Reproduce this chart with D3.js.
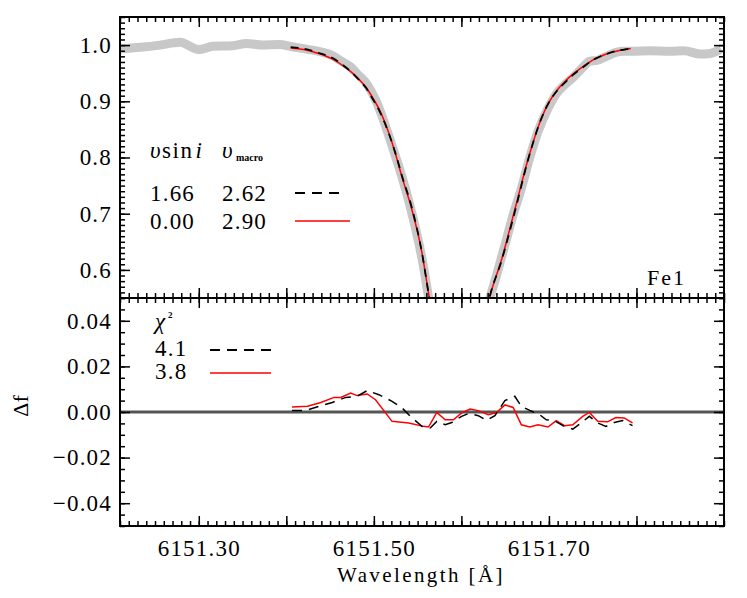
<!DOCTYPE html>
<html>
<head>
<meta charset="utf-8">
<script src="https://cdn.jsdelivr.net/npm/d3@7"></script>
<style>
  html, body { margin: 0; padding: 0; background: #fff; }
  svg text { font-family: "Liberation Serif", "DejaVu Serif", serif; fill: #000; }
</style>
</head>
<body>
<svg id="chart" width="747" height="598"></svg>
<script>
// ---------------- data ----------------
// observed spectrum (grey)
const obsWave = [6151.2102, 6151.233, 6151.2557, 6151.2784, 6151.300, 6151.316, 6151.3386, 6151.3545, 6151.3727, 6151.392,
  6151.4065, 6151.4242, 6151.4394, 6151.4545, 6151.4622, 6151.4735, 6151.481, 6151.4924, 6151.5019, 6151.5208,
  6151.5398, 6151.5568, 6151.5625, 6151.5719, 6151.5815, 6151.5909, 6151.6003, 6151.6099, 6151.6193, 6151.6307,
  6151.6401, 6151.6497, 6151.6591, 6151.6685, 6151.6781, 6151.6875, 6151.6989, 6151.7083, 6151.7178, 6151.7273,
  6151.7386, 6151.7462, 6151.7557, 6151.767, 6151.7765, 6151.786, 6151.7955, 6151.816, 6151.8386, 6151.8545,
  6151.8727, 6151.884, 6151.8966];
const obsFlux = [0.993, 0.996, 1.000, 1.005, 0.992, 0.998, 0.999, 1.003, 1.000, 1.001,
  0.997, 0.9925, 0.988, 0.980, 0.972, 0.961, 0.949, 0.930, 0.903, 0.821,
  0.723, 0.605, 0.551, 0.475, 0.425, 0.397, 0.390, 0.410, 0.455, 0.539,
  0.590, 0.644, 0.698, 0.745, 0.800, 0.846, 0.887, 0.913, 0.929, 0.942,
  0.960, 0.971, 0.973, 0.981, 0.987, 0.989, 0.989, 0.990, 0.989, 0.990,
  0.984, 0.985, 0.993];

// model wavelengths
const modelWave = [6151.405, 6151.420, 6151.435, 6151.453, 6151.465, 6151.475, 6151.483, 6151.491, 6151.498, 6151.506,
  6151.517, 6151.525, 6151.532, 6151.5435, 6151.555, 6151.5625, 6151.570, 6151.580, 6151.597, 6151.615,
  6151.625, 6151.6326, 6151.646, 6151.661, 6151.676, 6151.691, 6151.700, 6151.710, 6151.720, 6151.729,
  6151.740, 6151.752, 6151.762, 6151.771, 6151.782, 6151.7935];
// model 1: vsini 1.66, vmacro 2.62 (black dashed)
const modelFluxA = [0.9965, 0.9935, 0.987, 0.977, 0.964, 0.951, 0.938, 0.924, 0.906, 0.884,
  0.843, 0.806, 0.768, 0.710, 0.630, 0.558, 0.488, 0.428, 0.392, 0.432,
  0.502, 0.554, 0.617, 0.703, 0.795, 0.868, 0.898, 0.920, 0.936, 0.949,
  0.962, 0.975, 0.982, 0.987, 0.991, 0.994];
// model 2: vsini 0.00, vmacro 2.90 (red)
const modelFluxB = [0.995, 0.992, 0.986, 0.975, 0.963, 0.951, 0.939, 0.925, 0.908, 0.886,
  0.844, 0.805, 0.766, 0.707, 0.630, 0.558, 0.490, 0.430, 0.390, 0.430,
  0.500, 0.553, 0.619, 0.707, 0.796, 0.868, 0.898, 0.921, 0.938, 0.950,
  0.963, 0.975, 0.982, 0.987, 0.991, 0.994];

// residuals
const resWaveA = [6151.4065, 6151.4224, 6151.4375, 6151.4526, 6151.4678, 6151.481, 6151.4924, 6151.5057, 6151.5208, 6151.5322,
  6151.5417, 6151.5549, 6151.5644, 6151.5719, 6151.5815, 6151.589, 6151.6003, 6151.608, 6151.6193, 6151.6288,
  6151.6383, 6151.6497, 6151.661, 6151.6685, 6151.6781, 6151.6894, 6151.697, 6151.7065, 6151.7159, 6151.7273,
  6151.7367, 6151.7462, 6151.7557, 6151.7651, 6151.7747, 6151.7841, 6151.7955];
const resA = [0.0007, 0.0007, 0.0025, 0.0042, 0.0064, 0.0069, 0.0094, 0.0076, 0.0047, 0.0018,
  -0.0019, -0.0063, -0.0070, -0.0041, -0.0056, -0.0046, -0.0019, -0.0007, -0.0016, -0.0037,
  -0.0016, 0.0050, 0.0069, 0.0025, 0.0007, -0.0012, -0.0034, -0.0038, -0.0060, -0.0075,
  -0.0048, -0.0019, -0.0048, -0.0063, -0.0046, -0.0037, -0.0060];
const resWaveB = [6151.4065, 6151.4242, 6151.4394, 6151.4545, 6151.4622, 6151.4735, 6151.481, 6151.4924, 6151.5019, 6151.5208,
  6151.5398, 6151.5568, 6151.5625, 6151.5719, 6151.5815, 6151.5909, 6151.6003, 6151.6099, 6151.6193, 6151.6307,
  6151.6401, 6151.6497, 6151.6591, 6151.6685, 6151.6781, 6151.6875, 6151.6989, 6151.7083, 6151.7178, 6151.7273,
  6151.7386, 6151.7462, 6151.7557, 6151.767, 6151.7765, 6151.786, 6151.7955];
const resB = [0.0022, 0.0025, 0.0042, 0.0064, 0.0064, 0.0083, 0.0072, 0.0079, 0.0054, -0.0041,
  -0.0048, -0.0063, -0.0066, -0.0002, -0.0034, -0.0034, -0.0004, 0.0013, 0.0006, -0.0012,
  -0.0002, 0.0031, 0.0020, -0.0056, -0.0066, -0.0056, -0.0066, -0.0038, -0.0060, -0.0056,
  -0.0019, -0.0002, -0.0041, -0.0043, -0.0024, -0.0026, -0.0048];

// axis ticks / labels
const xMajorTicks = [6151.3, 6151.4, 6151.5, 6151.6, 6151.7, 6151.8];
const xTickLabels = ["6151.30", "", "6151.50", "", "6151.70", ""];
const yTopTicks = [0.6, 0.7, 0.8, 0.9, 1.0];
const yTopLabels = ["0.6", "0.7", "0.8", "0.9", "1.0"];
const yBotTicks = [-0.04, -0.02, 0.0, 0.02, 0.04];
const yBotLabels = ["\u22120.04", "\u22120.02", "0.00", "0.02", "0.04"];

// legend
const legVsini = ["1.66", "0.00"];
const legVmacro = ["2.62", "2.90"];
const legChi2 = ["4.1", "3.8"];
const lineName = "Fe1";

// ---------------- layout ----------------
const L = 120, R = 724, T = 17, M = 298, B = 526;
const FONT = "Liberation Serif";
const svg = d3.select("#chart");

const x = d3.scaleLinear().domain([6151.21, 6151.90]).range([L, R]);
const yTop = d3.scaleLinear().domain([0.55, 1.05]).range([M, T]);
const yBot = d3.scaleLinear().domain([-0.05, 0.05]).range([B, M]);

const defs = svg.append("defs");
defs.append("clipPath").attr("id", "clipTop").append("rect")
  .attr("x", L).attr("y", T).attr("width", R - L).attr("height", M - T);
defs.append("clipPath").attr("id", "clipBot").append("rect")
  .attr("x", L).attr("y", M).attr("width", R - L).attr("height", B - M);

// ---------------- top panel ----------------
const gTop = svg.append("g").attr("clip-path", "url(#clipTop)");
const lineTop = d3.line().x(d => x(d[0])).y(d => yTop(d[1])).curve(d3.curveMonotoneX);

gTop.append("path")
  .datum(obsWave.map((w, i) => [w, obsFlux[i]]))
  .attr("d", lineTop).attr("fill", "none")
  .attr("stroke", "#c8c8c8").attr("stroke-width", 9).attr("stroke-linejoin", "round");
gTop.append("path")
  .datum(modelWave.map((w, i) => [w, modelFluxB[i]]))
  .attr("d", lineTop).attr("fill", "none")
  .attr("stroke", "#ff0000").attr("stroke-width", 1.5);
gTop.append("path")
  .datum(modelWave.map((w, i) => [w, modelFluxA[i]]))
  .attr("d", lineTop).attr("fill", "none")
  .attr("stroke", "#000").attr("stroke-width", 1.8).attr("stroke-dasharray", "8,6");

// ---------------- bottom panel ----------------
const gBot = svg.append("g").attr("clip-path", "url(#clipBot)");
const lineBot = d3.line().x(d => x(d[0])).y(d => yBot(d[1]));

gBot.append("line")
  .attr("x1", L).attr("x2", R).attr("y1", yBot(0)).attr("y2", yBot(0))
  .attr("stroke", "#555").attr("stroke-width", 3);
gBot.append("path")
  .datum(resWaveB.map((w, i) => [w, resB[i]]))
  .attr("d", lineBot).attr("fill", "none")
  .attr("stroke", "#ff0000").attr("stroke-width", 1.5);
gBot.append("path")
  .datum(resWaveA.map((w, i) => [w, resA[i]]))
  .attr("d", lineBot).attr("fill", "none")
  .attr("stroke", "#000").attr("stroke-width", 1.5).attr("stroke-dasharray", "10,7");

// ---------------- axes ----------------
const xMinor = x.ticks(70);
function styleAxis(g) {
  g.select(".domain").remove();
  g.selectAll(".tick line").attr("stroke", "#000").attr("stroke-width", 1.5);
  g.selectAll("text").attr("font-family", FONT).attr("font-size", 23)
    .attr("letter-spacing", 1.2).attr("fill", "#000");
}
function xAxes(axisFn, yPos, withLabels) {
  svg.append("g").attr("transform", `translate(0,${yPos})`)
    .call(axisFn(x).tickValues(xMinor).tickSize(-5).tickFormat(""))
    .call(styleAxis);
  svg.append("g").attr("transform", `translate(0,${yPos})`)
    .call(axisFn(x).tickValues(xMajorTicks).tickSize(-10).tickPadding(14)
      .tickFormat((d, i) => withLabels ? xTickLabels[i] : ""))
    .call(styleAxis);
}
xAxes(d3.axisTop, T, false);
xAxes(d3.axisBottom, M, false);
xAxes(d3.axisTop, M, false);
xAxes(d3.axisBottom, B, true);

function yAxes(scale, majors, labels, minorCount) {
  const minors = scale.ticks(minorCount);
  [[d3.axisLeft, L, true], [d3.axisRight, R, false]].forEach(([fn, xp, lab]) => {
    svg.append("g").attr("transform", `translate(${xp},0)`)
      .call(fn(scale).tickValues(minors).tickSize(-5).tickFormat(""))
      .call(styleAxis);
    svg.append("g").attr("transform", `translate(${xp},0)`)
      .call(fn(scale).tickValues(majors).tickSize(-10).tickPadding(8)
        .tickFormat((d, i) => lab ? labels[i] : ""))
      .call(styleAxis);
  });
}
yAxes(yTop, yTopTicks, yTopLabels, 50);
yAxes(yBot, yBotTicks, yBotLabels, 20);

// frames
svg.append("rect").attr("x", L).attr("y", T).attr("width", R - L).attr("height", B - T)
  .attr("fill", "none").attr("stroke", "#000").attr("stroke-width", 2);
svg.append("line").attr("x1", L).attr("x2", R).attr("y1", M).attr("y2", M)
  .attr("stroke", "#000").attr("stroke-width", 2);

// axis titles
svg.append("text").attr("x", (L + R) / 2 - 1).attr("y", 582)
  .attr("text-anchor", "middle").attr("font-size", 21).attr("letter-spacing", 2.4)
  .text("Wavelength [\u00c5]");
svg.append("text").attr("transform", "translate(28,406) rotate(-90)")
  .attr("text-anchor", "middle").attr("font-size", 22)
  .text("\u0394f");

// line name
svg.append("text").attr("x", 647).attr("y", 285).attr("font-size", 22).attr("letter-spacing", 2).text(lineName);

// ---------------- top legend ----------------
const hdr = svg.append("text").attr("x", 150).attr("y", 158).attr("font-size", 23).attr("letter-spacing", 1.5);
hdr.append("tspan").attr("font-style", "italic").text("\u03c5");
hdr.append("tspan").text("sin");
hdr.append("tspan").attr("font-style", "italic").attr("dx", 2).text("i");
svg.append("text").attr("x", 222).attr("y", 158).attr("font-size", 23).attr("font-style", "italic").text("\u03c5");
svg.append("text").attr("x", 236).attr("y", 161).attr("font-size", 10).attr("font-weight", "bold").text("macro");

const legRowsY = [201, 229];
const legStroke = [{ c: "#000", dash: "10,7", w: 1.8 }, { c: "#ff0000", dash: null, w: 1.5 }];
legVsini.forEach((v, i) => {
  svg.append("text").attr("x", 150).attr("y", legRowsY[i]).attr("font-size", 23).attr("letter-spacing", 1.2).text(v);
  svg.append("text").attr("x", 222).attr("y", legRowsY[i]).attr("font-size", 23).attr("letter-spacing", 1.2).text(legVmacro[i]);
  svg.append("line").attr("x1", 295).attr("x2", i === 0 ? 345 : 350)
    .attr("y1", legRowsY[i] - 8).attr("y2", legRowsY[i] - 8)
    .attr("stroke", legStroke[i].c).attr("stroke-width", legStroke[i].w)
    .attr("stroke-dasharray", legStroke[i].dash);
});

// ---------------- bottom legend ----------------
const chiT = svg.append("text").attr("x", 155).attr("y", 329).attr("font-size", 23);
chiT.append("tspan").attr("font-style", "italic").text("\u03c7");
svg.append("text").attr("x", 168).attr("y", 318).attr("font-size", 9).attr("font-weight", "bold").text("2");
const chiRowsY = [356, 379];
legChi2.forEach((v, i) => {
  svg.append("text").attr("x", 155).attr("y", chiRowsY[i]).attr("font-size", 23).attr("letter-spacing", 1.2).text(v);
  svg.append("line").attr("x1", 210).attr("x2", 271)
    .attr("y1", chiRowsY[i] - 6).attr("y2", chiRowsY[i] - 6)
    .attr("stroke", legStroke[i].c).attr("stroke-width", legStroke[i].w)
    .attr("stroke-dasharray", legStroke[i].dash);
});
</script>
</body>
</html>
